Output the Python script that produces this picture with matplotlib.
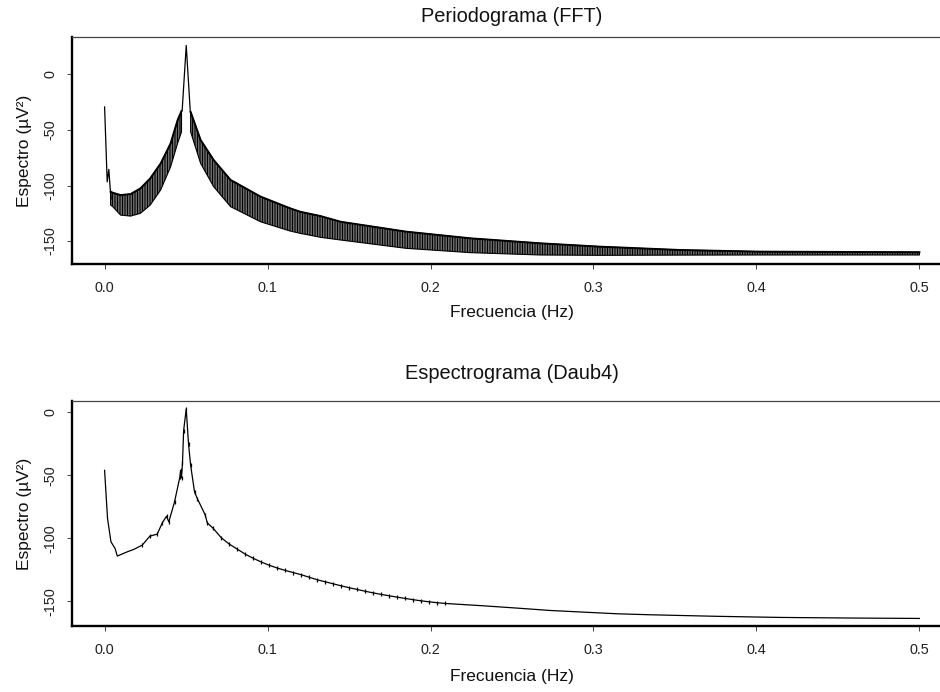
import matplotlib
matplotlib.use('Agg')
import matplotlib.pyplot as plt

plt.rcParams['font.family'] = ['Liberation Sans', 'DejaVu Sans']
plt.rcParams['axes.unicode_minus'] = False
plt.rcParams['hatch.linewidth'] = 0.75
plt.rcParams['hatch.color'] = 'black'

# ---------------- Periodograma (FFT) ----------------
# initial drop near 0 Hz
fft_lead_f = [0.0, 0.0016, 0.0026, 0.0033, 0.0040]
fft_lead_v = [-29.3, -96.7, -85.5, -100, -112]
# oscillation band left of the peak (upper / lower envelope)
fft_band1_f = [0.0037, 0.0050, 0.0098, 0.0160, 0.0220, 0.0280, 0.0344, 0.0405, 0.0448, 0.0472]
fft_band1_hi = [-105.6, -106.5, -108.6, -107.7, -102.6, -93.6, -80.2, -62.2, -41.3, -33.0]
fft_band1_lo = [-117.6, -119.0, -126.6, -127.5, -125.0, -117.6, -104.0, -83.2, -62.0, -51.8]
# main peak
fft_peak_f = [0.0476, 0.0501, 0.0526]
fft_peak_v = [-32.5, 26.0, -34.0]
# oscillation band right of the peak
fft_band2_f = [0.0528, 0.0589, 0.0669, 0.0773, 0.0957, 0.1140, 0.1200, 0.1325, 0.1448,
               0.1850, 0.2245, 0.2675, 0.3040, 0.3530, 0.4020, 0.5000]
fft_band2_hi = [-33.8, -59.0, -77.0, -95.0, -110.0, -120.6, -123.6, -127.5, -132.6,
                -141.5, -147.5, -152.0, -155.0, -158.0, -159.5, -160.0]
fft_band2_lo = [-51.8, -80.0, -101.0, -119.0, -132.6, -141.0, -143.0, -146.6, -149.0,
                -156.5, -160.4, -162.5, -162.8, -162.6, -162.5, -162.5]

# ---------------- Espectrograma (Daub4) ----------------
dwt_f = [0.0, 0.0018, 0.0039, 0.0064, 0.0078, 0.0140, 0.0180, 0.0231, 0.0278, 0.0323,
         0.0354, 0.0380, 0.0394, 0.0429, 0.0462, 0.0466, 0.0472, 0.0478, 0.0485, 0.0501,
         0.0515, 0.0528, 0.0552, 0.0569, 0.0618, 0.0630, 0.0667, 0.0716, 0.0765, 0.0814,
         0.0863, 0.0912, 0.0961, 0.1010, 0.1059, 0.1108, 0.1157, 0.1206, 0.1255, 0.1304,
         0.1353, 0.1402, 0.1451, 0.1500, 0.1549, 0.1598, 0.1647, 0.1696, 0.1745, 0.1794,
         0.1843, 0.1892, 0.1941, 0.1990, 0.2039, 0.2088, 0.2327, 0.2531, 0.2736, 0.2940,
         0.3145, 0.3350, 0.3750, 0.4147, 0.4600, 0.5000]
dwt_v = [-46.0, -84.2, -102.7, -107.9, -114.0, -110.6, -108.7, -105.3, -98.2, -96.6,
         -87.7, -82.4, -86.9, -71.1, -51.3, -46.0, -52.0, -40.0, -14.5, 2.7,
         -25.0, -42.0, -63.2, -68.4, -81.6, -87.7, -92.1, -99.5, -104.5, -108.5,
         -112.5, -115.8, -118.7, -121.3, -123.5, -125.4, -127.1, -128.8, -130.8, -132.8,
         -134.4, -136.0, -137.6, -139.1, -140.5, -141.9, -143.2, -144.4, -145.5, -146.6,
         -147.6, -148.6, -149.5, -150.3, -151.0, -151.6, -153.5, -155.3, -157.2, -158.5,
         -159.8, -160.6, -161.8, -162.7, -163.2, -163.5]
dwt_tick_range = (0.022, 0.21)   # where small wavelet tick marks appear on the curve

x_ticks = [0.0, 0.1, 0.2, 0.3, 0.4, 0.5]
x_ticklabels = ['0.0', '0.1', '0.2', '0.3', '0.4', '0.5']
y_ticks = [0, -50, -100, -150]
y_ticklabels = ['0', '-50', '-100', '-150']

W, H = 940, 692
fig = plt.figure(figsize=(W / 100, H / 100), dpi=100)


def px_axes(left, top, right, bottom):
    return fig.add_axes([left / W, (H - bottom) / H, (right - left) / W, (bottom - top) / H])


def style(ax, ylim, title, title_pad, xlab_off, ax_h):
    ax.set_xlim(-0.02, 0.52)
    ax.set_ylim(*ylim)
    ax.set_xticks(x_ticks)
    ax.set_xticklabels(x_ticklabels)
    ax.set_yticks(y_ticks)
    ax.set_yticklabels(y_ticklabels, rotation=90, va='center')
    for s in ['left', 'bottom']:
        ax.spines[s].set_linewidth(1.7)
        ax.spines[s].set_color('black')
    ax.spines['top'].set_linewidth(0.9)
    ax.spines['top'].set_color('#444444')
    ax.spines['right'].set_visible(False)
    ax.tick_params(axis='both', direction='out', length=3.6, width=0.7, color='#444444',
                   labelsize=10.4, labelcolor='#222222')
    ax.tick_params(axis='x', pad=8.5)
    ax.tick_params(axis='y', pad=7.0)
    ax.set_title(title, fontsize=14.4, pad=title_pad, color='#111111')
    ax.set_xlabel('Frecuencia (Hz)', fontsize=12.5, color='#111111')
    ax.xaxis.set_label_coords(0.5, -xlab_off / ax_h)
    ax.xaxis.label.set_verticalalignment('center')
    ax.set_ylabel('Espectro (µV²)', fontsize=12.5, color='#111111')
    ax.yaxis.set_label_coords(-(72 - 25) / 880, 0.5)
    ax.yaxis.label.set_verticalalignment('center')


# top panel
ax1 = px_axes(72, 37, 952, 264)
ax1.plot(fft_lead_f, fft_lead_v, color='black', lw=0.9)
ax1.fill_between(fft_band1_f, fft_band1_lo, fft_band1_hi, facecolor='#ababab',
                 edgecolor='black', hatch='||||||||||', linewidth=0.8)
ax1.plot(fft_peak_f, fft_peak_v, color='black', lw=0.9)
ax1.fill_between(fft_band2_f, fft_band2_lo, fft_band2_hi, facecolor='#ababab',
                 edgecolor='black', hatch='||||||||||', linewidth=0.8)
ax1.plot(fft_band1_f, fft_band1_hi, color='black', lw=1.4)
ax1.plot(fft_band2_f, fft_band2_hi, color='black', lw=1.4)
style(ax1, (-170.6, 33.6), 'Periodograma (FFT)', 11.0, 49, 227)

# bottom panel
ax2 = px_axes(72, 401, 952, 626)
ax2.plot(dwt_f, dwt_v, color='black', lw=0.9)
tick_f = [f for f in dwt_f if dwt_tick_range[0] <= f <= dwt_tick_range[1]]
tick_v = [v for f, v in zip(dwt_f, dwt_v) if dwt_tick_range[0] <= f <= dwt_tick_range[1]]
ax2.plot(tick_f, tick_v, linestyle='none', marker='|', markersize=3, mew=0.9, color='black')
style(ax2, (-169.5, 9.0), 'Espectrograma (Daub4)', 15.5, 51, 225)

fig.savefig('out.png', dpi=100)
